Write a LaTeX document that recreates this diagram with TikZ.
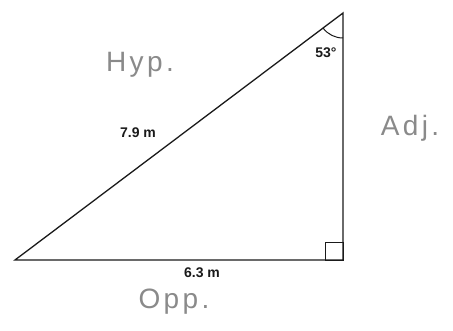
\documentclass[tikz,border=0pt]{standalone}
\usepackage{fontspec}
\setmainfont{Liberation Sans}
\newfontfamily\handfont[LetterSpace=12]{Liberation Sans}
\usepackage{xcolor}
\usepackage{tikz}
\usetikzlibrary{calc}
\definecolor{inkx}{HTML}{1A1A1A}
\definecolor{pencilx}{HTML}{8A8A8A}
\tikzset{
  side/.style={line width=1.3pt,inkx},
  thin/.style={line width=1pt,inkx},
  meas/.style={font=\fontsize{14}{16}\selectfont\bfseries,inkx,inner sep=1pt},
  hand/.style={font=\handfont\fontsize{28}{30}\selectfont,pencilx,inner sep=1pt}
}
\begin{document}
\begin{tikzpicture}[x=1pt,y=1pt]
\useasboundingbox (0,0) rectangle (453,330);
\coordinate (A) at (343,317);
\coordinate (B) at (343,70);
\coordinate (C) at (15,70);
\draw[side] (C)--(B)--(A)--cycle;
\draw[thin] (325,70) rectangle (343,88);
\draw[thin] ($(A)+(217:25)$) arc[start angle=217,end angle=270,radius=25];
\node[meas] (ang) at (326,277) {53°};
\node[meas] (hyplen) at (138,197) {7.9 m};
\node[meas] (opplen) at (202,57) {6.3 m};
\node[hand] (hyp) at (140,265) {Hyp.};
\node[hand] (adj) at (410,202) {Adj.};
\node[hand] (opp) at (174,28) {Opp.};
\end{tikzpicture}
\end{document}
